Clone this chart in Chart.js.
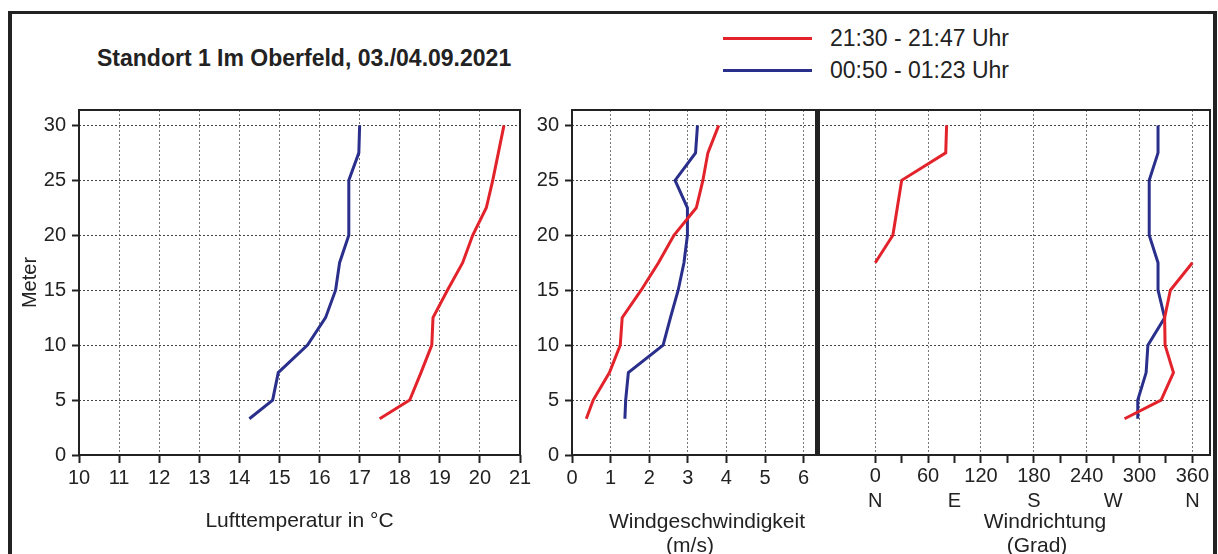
<!DOCTYPE html>
<html>
<head>
<meta charset="utf-8">
<script src="https://cdn.jsdelivr.net/npm/chart.js@4.4.1/dist/chart.umd.min.js"></script>
<style>
  html, body { margin: 0; padding: 0; background: #fff; }
  body { width: 1218px; height: 554px; position: relative; overflow: hidden;
         font-family: "Liberation Sans", Arial, sans-serif; color: #222; }
  .frame { position: absolute; left: 8px; top: 11px; width: 1201px; height: 600px;
           border: 4px solid #222; border-top-width: 3px; }
  .title { position: absolute; left: 97px; top: 45px; font-size: 23px; line-height: 26px; font-weight: bold; white-space: nowrap; }
  .swatch { position: absolute; left: 723px; width: 89px; height: 3px; }
  .legtext { position: absolute; left: 830px; font-size: 23px; line-height: 26px; white-space: nowrap; }
  .axtitle { position: absolute; width: 300px; text-align: center; font-size: 21px; line-height: 24px; white-space: nowrap; }
  canvas { position: absolute; top: 90px; }
</style>
</head>
<body>
<div class="frame"></div>
<div class="title">Standort 1 Im Oberfeld, 03./04.09.2021</div>
<div class="swatch" style="top:36.5px;background:#e3232b"></div>
<div class="legtext" style="top:25px">21:30 - 21:47 Uhr</div>
<div class="swatch" style="top:68.5px;background:#2b2f8c"></div>
<div class="legtext" style="top:57px">00:50 - 01:23 Uhr</div>

<canvas id="temp" width="540" height="464" style="left:12px"></canvas>
<canvas id="speed" width="318" height="464" style="left:500px"></canvas>
<canvas id="dir" width="418" height="464" style="left:800px"></canvas>

<div class="axtitle" style="left:557px;top:509px">Windgeschwindigkeit</div>
<div class="axtitle" style="left:540px;top:533px">(m/s)</div>
<div class="axtitle" style="left:895px;top:509px">Windrichtung</div>
<div class="axtitle" style="left:887px;top:533px">(Grad)</div>

<script>
// Messhöhen (m)
const heights = [3.3, 5, 7.5, 10, 12.5, 15, 17.5, 20, 22.5, 25, 27.5, 30];

// 21:30 - 21:47 Uhr
const tempEvening  = [17.5, 18.25, 18.53, 18.8, 18.83, 19.19, 19.57, 19.82, 20.16, 20.32, 20.46, 20.6];
const speedEvening = [0.37, 0.55, 0.97, 1.25, 1.3, 1.79, 2.24, 2.64, 3.22, 3.39, 3.52, 3.8];
const dirEvening   = [283, 324.5, 338.5, 329, 328.5, 335, 0, 20, 25, 30, 80, 81];

// 00:50 - 01:23 Uhr
const tempNight  = [14.25, 14.83, 14.97, 15.7, 16.15, 16.4, 16.5, 16.73, 16.73, 16.73, 16.98, 17.0];
const speedNight = [1.37, 1.39, 1.46, 2.36, 2.55, 2.75, 2.9, 2.99, 2.99, 2.67, 3.2, 3.25];
const dirNight   = [298, 298, 307.5, 309.5, 328.5, 321, 321, 311, 311, 311, 321, 321];

// Achsen
const heightTicks = [0, 5, 10, 15, 20, 25, 30];
const tempTicks = [10, 11, 12, 13, 14, 15, 16, 17, 18, 19, 20, 21];
const speedTicks = [0, 1, 2, 3, 4, 5, 6];
const dirTicks = [0, 30, 60, 90, 120, 150, 180, 210, 240, 270, 300, 330, 360];
const dirNumbers = [0, 60, 120, 180, 240, 300, 360];
const compass = { 0: 'N', 90: 'E', 180: 'S', 270: 'W', 360: 'N' };

const RED = '#e3232b';
const BLUE = '#2b2f8c';
const FONT = '"Liberation Sans", Arial, sans-serif';
const INK = '#222';

// split a direction profile where it wraps over north
function wrapSegments(values) {
  const segs = [[]];
  values.forEach((v, i) => {
    const prev = i > 0 ? values[i - 1] : null;
    if (prev !== null && prev - v > 180) {
      segs[segs.length - 1].push({ x: v + 360, y: heights[i] });
      segs.push([{ x: v, y: heights[i] }]);
    } else {
      segs[segs.length - 1].push({ x: v, y: heights[i] });
    }
  });
  return segs;
}

function line(points, color) {
  return {
    data: points,
    borderColor: color,
    backgroundColor: color,
    borderWidth: 3,
    pointRadius: 0,
    showLine: true,
    tension: 0
  };
}

function profile(values, color) {
  return line(values.map((v, i) => ({ x: v, y: heights[i] })), color);
}

const boxFrame = {
  id: 'boxFrame',
  afterDraw(chart, args, opts) {
    const { ctx, chartArea: a } = chart;
    ctx.save();
    ctx.strokeStyle = INK;
    ctx.lineWidth = 2;
    ctx.strokeRect(a.left, a.top, a.right - a.left, a.bottom - a.top);
    if (opts.thickLeft) {
      ctx.lineWidth = 4;
      ctx.beginPath();
      ctx.moveTo(a.left, a.top - 1);
      ctx.lineTo(a.left, a.bottom + 1);
      ctx.stroke();
    }
    ctx.restore();
  }
};

function heightAxis(showLabels, width, title) {
  return {
    type: 'linear',
    min: 0,
    max: 31.4,
    afterBuildTicks: s => { s.ticks = heightTicks.map(v => ({ value: v })); },
    afterFit: s => { s.width = width; },
    ticks: { display: showLabels, color: INK, font: { size: 20, family: FONT }, padding: 6 },
    grid: { color: '#444', lineWidth: 1, drawTicks: showLabels, tickLength: 7, tickColor: INK, tickWidth: 2 },
    border: { display: false, dash: [2, 2] },
    title: title ? {
      display: true, text: title, color: INK,
      font: { size: 20, family: FONT }, padding: { top: 6, bottom: 0 }
    } : { display: false }
  };
}

function bottomAxis(min, max, tickValues, extra) {
  return Object.assign({
    type: 'linear',
    min: min,
    max: max,
    afterBuildTicks: s => { s.ticks = tickValues.map(v => ({ value: v })); },
    afterFit: s => { s.height = 99; },
    ticks: { color: INK, font: { size: 20, family: FONT }, padding: 3, autoSkip: false, maxRotation: 0 },
    grid: { color: '#777', lineWidth: 1, tickLength: 8, tickColor: INK, tickWidth: 2 },
    border: { display: false, dash: [2, 2] }
  }, extra || {});
}

function baseOptions(padding, x, y, thickLeft) {
  return {
    responsive: false,
    animation: false,
    layout: { padding: padding },
    scales: { x: x, y: y },
    plugins: {
      legend: { display: false },
      tooltip: { enabled: false },
      boxFrame: { thickLeft: !!thickLeft }
    }
  };
}

new Chart(document.getElementById('temp'), {
  type: 'scatter',
  data: { datasets: [profile(tempEvening, RED), profile(tempNight, BLUE)] },
  options: baseOptions(
    { left: 0, top: 20, right: 32, bottom: 0 },
    bottomAxis(10, 21, tempTicks, {
      title: {
        display: true, text: 'Lufttemperatur in °C', color: INK,
        font: { size: 21, family: FONT }, padding: { top: 0, bottom: 20 }
      }
    }),
    heightAxis(true, 67, 'Meter')
  ),
  plugins: [boxFrame]
});

new Chart(document.getElementById('speed'), {
  type: 'scatter',
  data: { datasets: [profile(speedEvening, RED), profile(speedNight, BLUE)] },
  options: baseOptions(
    { left: 0, top: 20, right: 2, bottom: 0 },
    bottomAxis(0, 6.32, speedTicks),
    heightAxis(true, 72)
  ),
  plugins: [boxFrame]
});

const dirX = bottomAxis(-65, 380, dirTicks);
dirX.ticks = Object.assign({}, dirX.ticks, {
  font: { size: 20, family: FONT, lineHeight: 1.25 },
  padding: 1,
  callback: v => [dirNumbers.includes(v) ? String(v) : '', compass[v] || '']
});
dirX.grid = Object.assign({}, dirX.grid, {
  color: c => (c.tick && dirNumbers.includes(c.tick.value)) ? '#777' : 'rgba(0,0,0,0)'
});

new Chart(document.getElementById('dir'), {
  type: 'scatter',
  data: {
    datasets: [
      ...wrapSegments(dirEvening).map(seg => line(seg, RED)),
      profile(dirNight, BLUE)
    ]
  },
  options: baseOptions(
    { left: 18, top: 20, right: 8, bottom: 0 },
    dirX,
    heightAxis(false, 0),
    true
  ),
  plugins: [boxFrame]
});
</script>
</body>
</html>
